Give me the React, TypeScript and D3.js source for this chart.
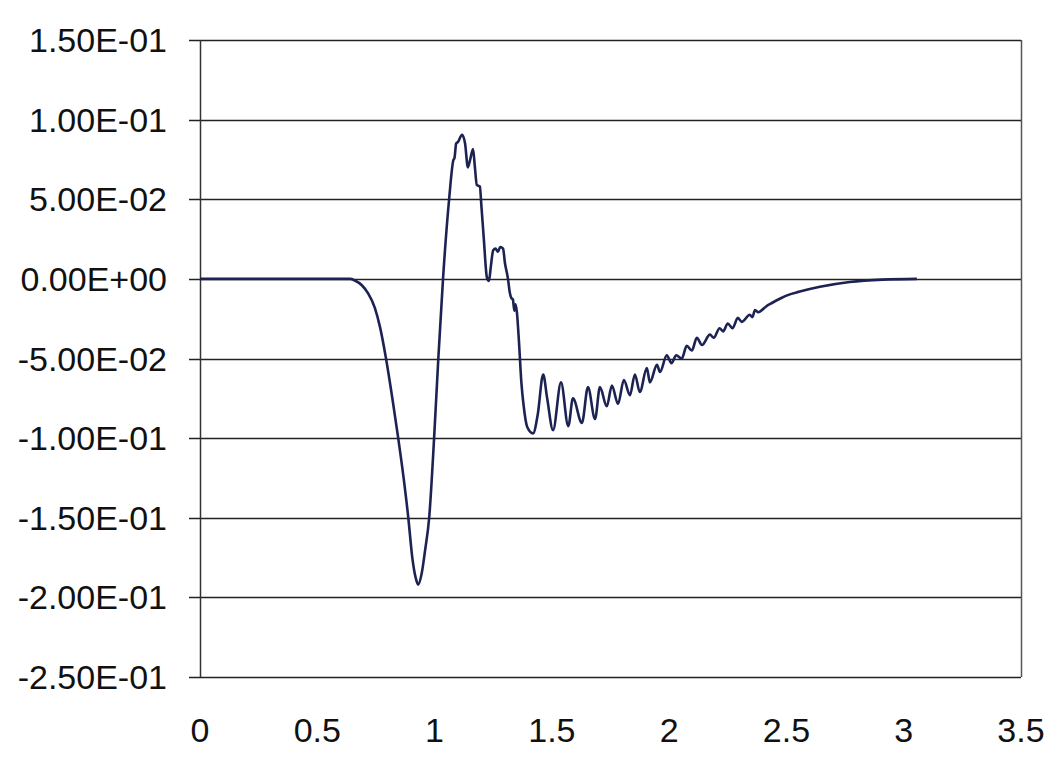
import React from "react";
import * as d3 from "d3";

// Time axis (s) and response amplitude for the trace
const timeValues = [
  0, 0.3, 0.62, 0.64, 0.66, 0.69, 0.716, 0.745, 0.767, 0.793, 0.82, 0.845, 0.868, 0.888, 0.905,
  0.92, 0.93, 0.945, 0.96, 0.977, 0.998, 1.016, 1.036, 1.062, 1.08, 1.085, 1.092, 1.1, 1.117,
  1.13, 1.142, 1.152, 1.164, 1.172, 1.18, 1.193, 1.2, 1.21, 1.223, 1.232, 1.24, 1.25, 1.26, 1.27,
  1.28, 1.292, 1.3, 1.313, 1.32, 1.327, 1.334, 1.34, 1.345, 1.351, 1.36, 1.37, 1.38, 1.395, 1.42,
  1.44, 1.463, 1.48, 1.505, 1.539, 1.57, 1.59, 1.628, 1.654, 1.684, 1.705, 1.734, 1.756, 1.782,
  1.807, 1.833, 1.854, 1.875, 1.905, 1.918, 1.948, 1.961, 1.99, 2.01, 2.03, 2.054, 2.075, 2.097,
  2.118, 2.14, 2.174, 2.19, 2.215, 2.23, 2.25, 2.27, 2.293, 2.31, 2.344, 2.355, 2.366, 2.38, 2.4,
  2.416, 2.44, 2.472, 2.5, 2.557, 2.643, 2.77, 2.91, 3.056,
];
const amplitudeValues = [
  0, 0, 0, 0, -0.001, -0.004, -0.009, -0.018, -0.03, -0.05, -0.075, -0.1, -0.125, -0.15, -0.175,
  -0.188, -0.192, -0.185, -0.17, -0.15, -0.1, -0.05, 0, 0.05, 0.0745, 0.076, 0.085, 0.086, 0.0905,
  0.085, 0.07, 0.075, 0.0815, 0.07, 0.059, 0.058, 0.045, 0.025, 0.001, -0.0013, 0.008, 0.018,
  0.019, 0.017, 0.02, 0.019, 0.01, 0, -0.008, -0.012, -0.013, -0.02, -0.016, -0.021, -0.04, -0.065,
  -0.08, -0.093, -0.097, -0.085, -0.06, -0.075, -0.095, -0.065, -0.0925, -0.075, -0.0905, -0.068,
  -0.088, -0.068, -0.08, -0.067, -0.0785, -0.0635, -0.073, -0.06, -0.071, -0.056, -0.065, -0.054,
  -0.0585, -0.048, -0.053, -0.048, -0.05, -0.042, -0.045, -0.037, -0.0415, -0.035, -0.037, -0.031,
  -0.033, -0.028, -0.031, -0.0245, -0.027, -0.0225, -0.024, -0.0195, -0.021, -0.019, -0.017,
  -0.015, -0.0125, -0.0105, -0.008, -0.005, -0.002, -0.0005, 0,
];

const yTickValues = [0.15, 0.1, 0.05, 0, -0.05, -0.1, -0.15, -0.2, -0.25];
const yTickLabels = [
  "1.50E-01", "1.00E-01", "5.00E-02", "0.00E+00", "-5.00E-02",
  "-1.00E-01", "-1.50E-01", "-2.00E-01", "-2.50E-01",
];
const xTickValues = [0, 0.5, 1, 1.5, 2, 2.5, 3, 3.5];
const xTickLabels = ["0", "0.5", "1", "1.5", "2", "2.5", "3", "3.5"];

const WIDTH = 1053;
const HEIGHT = 771;
const PLOT = { left: 200, right: 1021, top: 40, bottom: 677 };
const FONT = "'Liberation Sans', Arial, Helvetica, sans-serif";

export default function App() {
  const x = d3.scaleLinear().domain([0, 3.5]).range([PLOT.left, PLOT.right]);
  const y = d3.scaleLinear().domain([-0.25, 0.15]).range([PLOT.bottom, PLOT.top]);

  const points: [number, number][] = timeValues.map((t, i) => [t, amplitudeValues[i]]);
  const line = d3
    .line<[number, number]>()
    .x((d) => x(d[0]))
    .y((d) => y(d[1]))
    .curve(d3.curveMonotoneX);

  return (
    <svg
      width={WIDTH}
      height={HEIGHT}
      style={{ position: "absolute", left: 0, top: 0, background: "#ffffff" }}
    >
      <rect x={0} y={0} width={WIDTH} height={HEIGHT} fill="#ffffff" />
      {/* horizontal gridlines with short ticks to the left of the axis */}
      {yTickValues.map((v) => (
        <line
          key={`g${v}`}
          x1={PLOT.left - 11}
          x2={PLOT.right}
          y1={Math.round(y(v)) + 0.5}
          y2={Math.round(y(v)) + 0.5}
          stroke="#222"
          strokeWidth={1.3}
        />
      ))}
      {/* left axis and right border */}
      <line x1={PLOT.left + 0.5} x2={PLOT.left + 0.5} y1={PLOT.top} y2={PLOT.bottom} stroke="#333" strokeWidth={1.5} />
      <line x1={PLOT.right + 0.5} x2={PLOT.right + 0.5} y1={PLOT.top} y2={PLOT.bottom} stroke="#555" strokeWidth={1.5} />

      {yTickValues.map((v, i) => (
        <text
          key={`yl${v}`}
          x={167}
          y={y(v) + 12}
          textAnchor="end"
          fontFamily={FONT}
          fontSize={34}
          fill="#111"
        >
          {yTickLabels[i]}
        </text>
      ))}
      {xTickValues.map((v, i) => (
        <text
          key={`xl${v}`}
          x={x(v)}
          y={742}
          textAnchor="middle"
          fontFamily={FONT}
          fontSize={34}
          fill="#111"
        >
          {xTickLabels[i]}
        </text>
      ))}

      <path d={line(points) ?? ""} fill="none" stroke="#1c2352" strokeWidth={2.6} strokeLinejoin="round" />
    </svg>
  );
}
